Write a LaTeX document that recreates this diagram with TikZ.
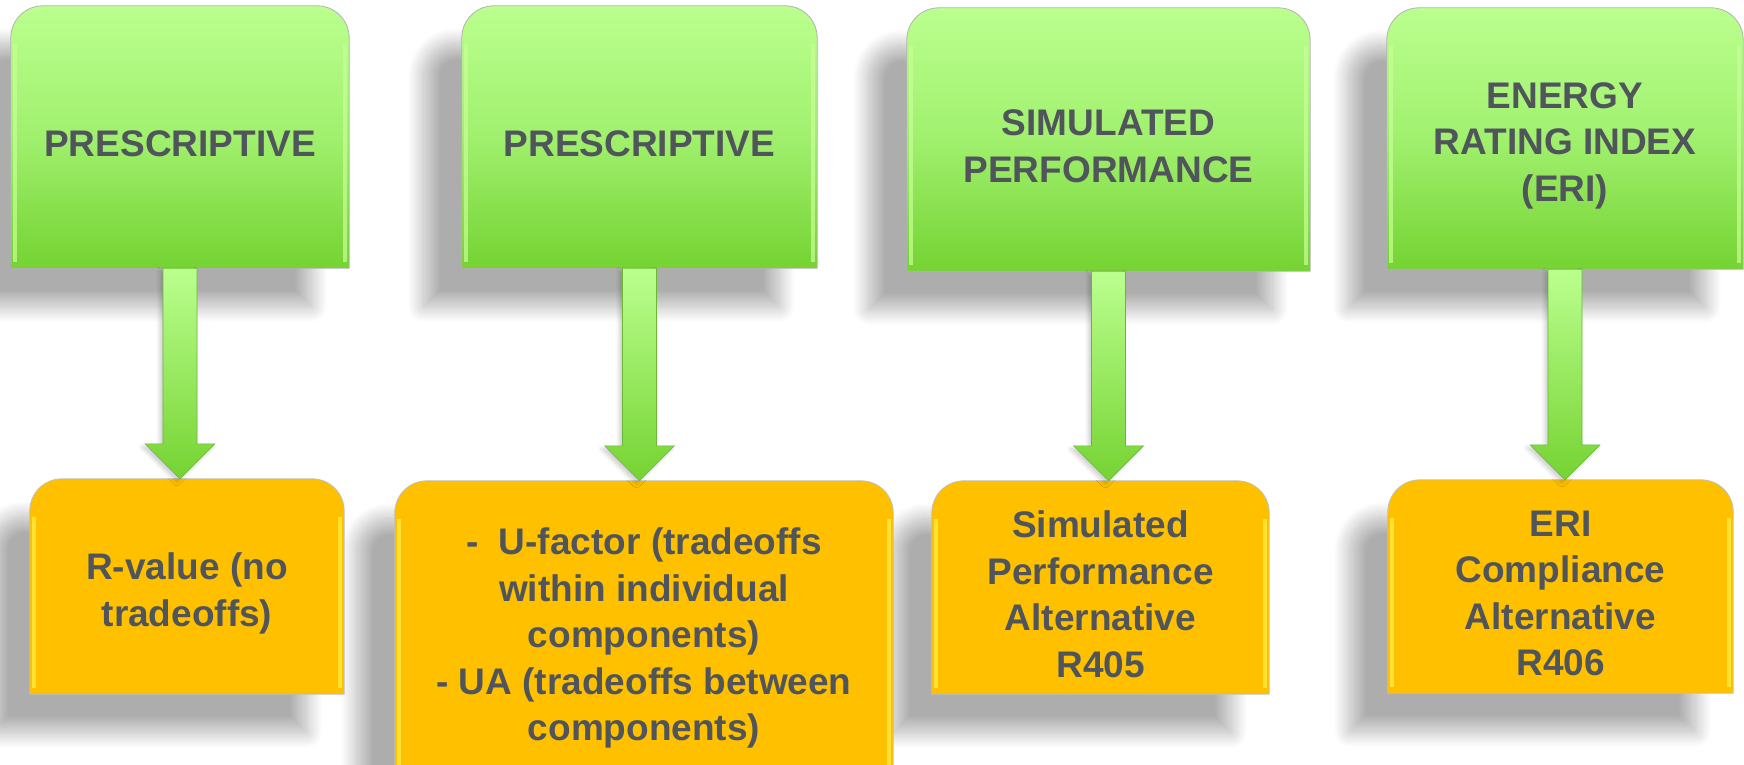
\documentclass[tikz,border=0pt]{standalone}
\usepackage{fontspec}
\setmainfont{Liberation Sans}
\usetikzlibrary{calc,backgrounds,shadows.blur}
\definecolor{textgray}{RGB}{80,85,92}
\definecolor{greentop}{RGB}{187,255,143}
\definecolor{greenmid}{RGB}{160,240,110}
\definecolor{greenbot}{RGB}{117,211,50}
\definecolor{greenline}{RGB}{105,185,55}
\definecolor{greenedge}{RGB}{200,255,150}
\definecolor{gold}{RGB}{255,192,0}
\definecolor{goldedge}{RGB}{255,240,70}
\tikzset{
  greenbox/.style={inner sep=0pt},
  goldbox/.style={inner sep=0pt},
  caption/.style={font=\bfseries\fontsize{37}{46.5}\selectfont, text=textgray, align=center, yshift=-7pt},
  boxshadow/.style={blur shadow={shadow xshift=-38pt, shadow yshift=-38pt, shadow blur radius=16pt, shadow blur steps=24, shadow opacity=32}},
  greenshape/.style={top color=greentop, bottom color=greenbot, middle color=greenmid, draw=black!30, line width=.8pt},
  goldshape/.style={fill=gold, draw=black!25, line width=.8pt},
  bevel/.style={line width=3.5pt, draw=#1, opacity=.7},
  flow/.style={top color=greentop, bottom color=greenbot, draw=greenline, line width=.6pt,
    blur shadow={shadow xshift=-3pt, shadow yshift=-3pt, shadow blur radius=4pt, shadow opacity=20}}
}
\newcommand{\tabpath}[2]{%
  \path[#1] (#2.south west) -- ([yshift=-32pt]#2.north west) arc[start angle=180, end angle=90, radius=32pt]
    -- ([xshift=-32pt]#2.north east) arc[start angle=90, end angle=0, radius=32pt] -- (#2.south east) -- cycle;
}
\newcommand{\tabshape}[3]{%
  \tabpath{#1}{#2}
  \draw[bevel=#3] ([xshift=4pt,yshift=-38pt]#2.north west) -- ([xshift=4pt,yshift=6pt]#2.south west);
  \draw[bevel=#3] ([xshift=-4pt,yshift=-38pt]#2.north east) -- ([xshift=-4pt,yshift=6pt]#2.south east);
}
\newcommand{\flowarrow}[2]{%
  \path[flow] ($(#1.south)+(-17,0)$) -- ($(#1.south |- #2.north)+(-17,35)$) -- ($(#1.south |- #2.north)+(-35,35)$)
    -- (#1.south |- #2.north) -- ($(#1.south |- #2.north)+(35,35)$) -- ($(#1.south |- #2.north)+(17,35)$)
    -- ($(#1.south)+(17,0)$) -- cycle;
}
\begin{document}
\begin{tikzpicture}[x=1pt,y=1pt]
\useasboundingbox (0,0) rectangle (1744,-764);

\node[greenbox, minimum width=338pt, minimum height=262pt, label={[caption]center:PRESCRIPTIVE}] (g1) at (180,-137) {};
\node[greenbox, minimum width=355pt, minimum height=262pt, label={[caption]center:PRESCRIPTIVE}] (g2) at (639.5,-137) {};
\node[greenbox, minimum width=403pt, minimum height=263pt, label={[caption]center:{SIMULATED\\PERFORMANCE}}] (g3) at (1108.5,-139.5) {};
\node[greenbox, minimum width=356pt, minimum height=261pt, label={[caption]center:{ENERGY\\RATING INDEX\\(ERI)}}] (g4) at (1565,-138.5) {};

\node[goldbox, minimum width=314pt, minimum height=215pt, label={[caption]center:{R-value (no\\tradeoffs)}}] (o1) at (187,-586.5) {};
\node[goldbox, minimum width=498pt, minimum height=318pt, label={[caption,yshift=9pt]center:{-\hspace{.55em}U-factor (tradeoffs\\within individual\\components)\\- UA (tradeoffs between\\components)}}] (o2) at (644,-640) {};
\node[goldbox, minimum width=337pt, minimum height=213pt, label={[caption]center:{Simulated\\Performance\\Alternative\\R405}}] (o3) at (1100.5,-587.5) {};
\node[goldbox, minimum width=345pt, minimum height=213pt, label={[caption]center:{ERI\\Compliance\\Alternative\\R406}}] (o4) at (1560.5,-586.5) {};

\begin{scope}[on background layer]
\foreach \n in {g1,g2,g3,g4,o1,o2,o3,o4} {\tabpath{boxshadow}{\n}}
\foreach \n in {g1,g2,g3,g4} {\tabshape{greenshape}{\n}{greenedge}}
\foreach \n in {o1,o2,o3,o4} {\tabshape{goldshape}{\n}{goldedge}}
\flowarrow{g1}{o1}
\flowarrow{g2}{o2}
\flowarrow{g3}{o3}
\flowarrow{g4}{o4}
\end{scope}
\end{tikzpicture}
\end{document}
